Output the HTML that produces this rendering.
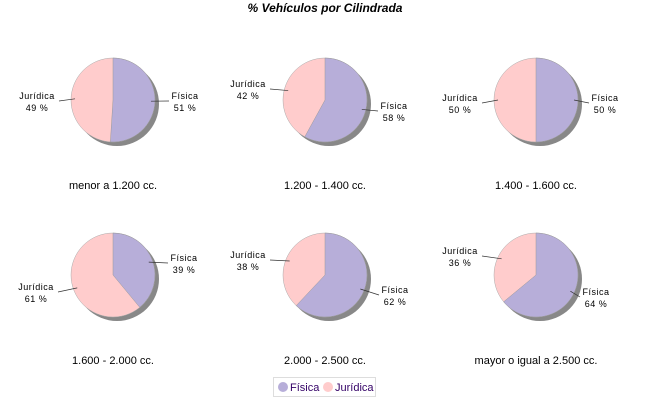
<!DOCTYPE html><html><head><meta charset="utf-8"><style>body{margin:0;background:#fff}svg{display:block}text{font-family:"Liberation Sans",sans-serif}</style></head><body>
<svg id="s" width="650" height="400" xmlns="http://www.w3.org/2000/svg">
<text x="325" y="12" text-anchor="middle" font-size="12" font-weight="bold" font-style="italic">% Vehículos por Cilindrada</text>
<rect x="273.5" y="377.5" width="102" height="19" fill="#fff" stroke="#ddd"/>
<circle cx="283" cy="387" r="5" fill="#b7aed9"/><text x="290" y="391" font-size="11" fill="#330066">Física</text>
<circle cx="328" cy="387" r="5" fill="#ffcccc"/><text x="335" y="391" font-size="11" fill="#330066">Jurídica</text>
</svg>
<script>
var s=document.getElementById('s'),N='http://www.w3.org/2000/svg';
function el(t,a,txt){var e=document.createElementNS(N,t);for(var k in a)e.setAttribute(k,a[k]);if(txt)e.textContent=txt;s.appendChild(e);return e;}
var C=[[113,100,51,'menor a 1.200 cc.',[37,99],[185,99],0],
[325,100,58,'1.200 - 1.400 cc.',[248,87],[394,109],0],
[536,100,50,'1.400 - 1.600 cc.',[460,101],[605,101],0],
[113,275,39,'1.600 - 2.000 cc.',[36,290],[184,261],0],
[325,275,62,'2.000 - 2.500 cc.',[248,258],[395,293],0],
[536,275,64,'mayor o igual a 2.500 cc.',[460,254],[596,295],0]];
var R=42;
C.forEach(function(c){var x=c[0],y=c[1],f=c[2]/100;
el('circle',{cx:x+4,cy:y+4,r:R,fill:'#888'});
var a=f*2*Math.PI,ex=x+R*Math.sin(a),ey=y-R*Math.cos(a);
el('circle',{cx:x,cy:y,r:R,fill:'#ffcccc',stroke:'#aaa','stroke-width':0.5});
el('path',{d:'M'+x+','+y+'L'+x+','+(y-R)+'A'+R+','+R+' 0 '+(f>0.5?1:0)+' 1 '+ex+','+ey+'Z',fill:'#b7aed9',stroke:'#999','stroke-width':0.5});
el('text',{x:x,y:y+89,'text-anchor':'middle','font-size':11},c[3]);
var j=c[4],p=c[5];
el('text',{x:j[0],y:j[1],'text-anchor':'middle','font-size':9,'letter-spacing':'0.5'},'Jurídica');
el('text',{x:j[0],y:j[1]+12,'text-anchor':'middle','font-size':9,'letter-spacing':'0.5'},(100-c[2])+' %');
var jm=(f+(1-f)/2)*2*Math.PI,jx=x+(R-4)*Math.sin(jm),jy=y-(R-4)*Math.cos(jm);
el('path',{d:'M'+(j[0]+22)+','+(j[1]+2)+'L'+jx+','+jy,stroke:'#333',fill:'none','stroke-width':0.7});
el('text',{x:p[0],y:p[1],'text-anchor':'middle','font-size':9,'letter-spacing':'0.5'},'Física');
el('text',{x:p[0],y:p[1]+12,'text-anchor':'middle','font-size':9,'letter-spacing':'0.5'},c[2]+' %');
var pm=f*Math.PI,px=x+(R-4)*Math.sin(pm),py=y-(R-4)*Math.cos(pm);
el('path',{d:'M'+(p[0]-16)+','+(p[1]+2)+'L'+px+','+py,stroke:'#333',fill:'none','stroke-width':0.7});
});
</script></body></html>
